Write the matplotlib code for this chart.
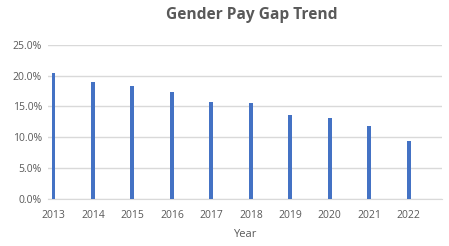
import matplotlib.pyplot as plt
from matplotlib.ticker import PercentFormatter

years = ["2013", "2014", "2015", "2016", "2017", "2018", "2019", "2020", "2021", "2022"]
pay_gap = [20.4, 19.0, 18.3, 17.3, 15.75, 15.5, 13.6, 13.1, 11.8, 9.4]

plt.rcParams["font.family"] = ["Open Sans", "DejaVu Sans"]

fig = plt.figure(figsize=(4.49, 2.46), dpi=100)
ax = fig.add_axes([0.106, 0.191, 0.878, 0.627])

x = range(len(years))
ax.bar(x, [v / 100 for v in pay_gap], width=0.1, color="#4472C4", zorder=3)

ax.set_xlim(-0.15, 9.84)
ax.set_ylim(0, 0.25)
ax.set_yticks([0, 0.05, 0.10, 0.15, 0.20, 0.25])
ax.yaxis.set_major_formatter(PercentFormatter(1.0, decimals=1))
ax.set_xticks(list(x))
ax.set_xticklabels(years)

ax.grid(axis="y", color="#d9d9d9", linewidth=1, zorder=0)
for s in ["top", "right", "left"]:
    ax.spines[s].set_visible(False)
ax.spines["bottom"].set_color("#d9d9d9")
ax.tick_params(length=0, labelsize=7.5, labelcolor="#595959")
ax.tick_params(axis="x", pad=8)
ax.tick_params(axis="y", pad=4)

ax.set_xlabel("Year", fontsize=8, color="#595959", labelpad=6)
fig.text(0.561, 0.938, "Gender Pay Gap Trend", ha="center", va="center",
         fontsize=11.2, fontweight="bold", color="#595959")

fig.savefig("out.png", dpi=100)
